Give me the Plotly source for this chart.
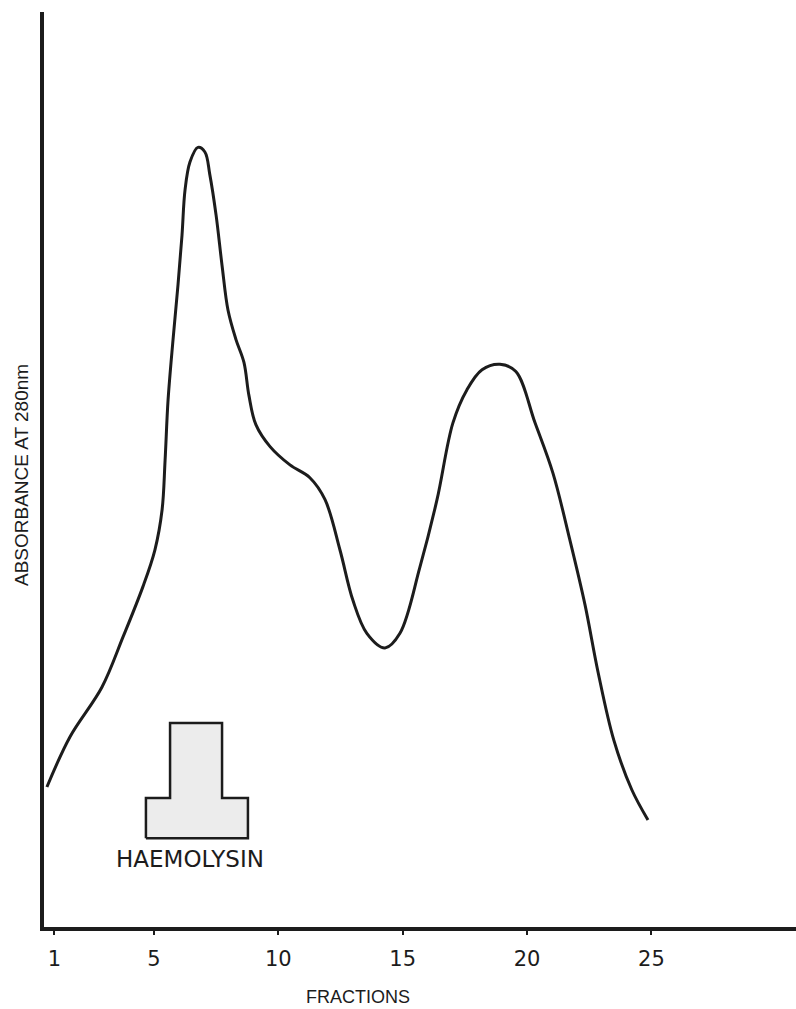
import plotly.graph_objects as go

# Elution profile (absorbance at 280 nm, relative units) vs fraction number
fraction = [0.70, 1.63, 2.91, 3.76, 4.56, 5.04, 5.33, 5.45, 5.57, 5.77,
            5.97, 6.13, 6.25, 6.45, 6.77, 7.05, 7.25, 7.50, 7.74, 7.98,
            8.30, 8.62, 8.82, 9.10, 9.67, 10.47, 11.27, 11.88, 12.48, 13.00,
            13.56, 14.29, 14.89, 15.69, 16.38, 17.02, 17.58, 18.19, 18.91, 19.55,
            20.32, 21.04, 21.72, 22.33, 22.85, 23.49, 24.21, 24.86]
absorbance = [0.153, 0.208, 0.262, 0.317, 0.372, 0.412, 0.456, 0.510, 0.576, 0.642,
              0.702, 0.756, 0.805, 0.836, 0.852, 0.847, 0.822, 0.778, 0.723, 0.674,
              0.642, 0.617, 0.581, 0.549, 0.525, 0.505, 0.491, 0.467, 0.412, 0.357,
              0.321, 0.305, 0.321, 0.393, 0.467, 0.551, 0.587, 0.609, 0.615, 0.607,
              0.551, 0.496, 0.423, 0.352, 0.279, 0.204, 0.150, 0.117]

# Haemolysin activity block (fraction edges and levels)
hemo_edges = [4.68, 5.65, 7.74, 8.78]
hemo_base = 0.097
hemo_low = 0.141
hemo_high = 0.223
hemo_label = "HAEMOLYSIN"
hemo_label_x = 6.45

tick_vals = [1, 5, 10, 15, 20, 25]
tick_text = ["1", "5", "10", "15", "20", "25"]
x_title = "FRACTIONS"
y_title = "ABSORBANCE AT 280nm"

ink = "#1c1c1c"

# polygon outline of the stepped haemolysin block
e0, e1, e2, e3 = hemo_edges
hx = [e0, e0, e1, e1, e2, e2, e3, e3, e0]
hy = [hemo_base, hemo_low, hemo_low, hemo_high, hemo_high, hemo_low, hemo_low, hemo_base, hemo_base]

fig = go.Figure()
fig.add_trace(go.Scatter(
    x=hx, y=hy, mode="lines", fill="toself",
    fillcolor="#ececec", line=dict(color=ink, width=2.5),
    hoverinfo="skip", showlegend=False))
fig.add_trace(go.Scatter(
    x=fraction, y=absorbance, mode="lines",
    line=dict(color=ink, width=3, shape="spline", smoothing=1.0),
    showlegend=False))

fig.add_annotation(
    x=hemo_label_x, y=hemo_base, yshift=-6, text=hemo_label,
    showarrow=False, xanchor="center", yanchor="top",
    font=dict(family="DejaVu Sans", size=23, color=ink))
fig.add_annotation(
    xref="paper", yref="paper", x=0.4176, y=0, yshift=-70,
    text=x_title, showarrow=False, xanchor="center", yanchor="middle",
    borderpad=0,
    font=dict(family="Liberation Sans, Arial", size=18, color=ink))
fig.add_annotation(
    xref="paper", yref="paper", x=0, xshift=-22, y=0.494,
    text=y_title, showarrow=False, textangle=-90,
    xanchor="center", yanchor="middle",
    font=dict(family="Liberation Sans, Arial", size=19, color=ink))

fig.update_xaxes(
    range=[0.583, 30.81], showgrid=False, zeroline=False,
    showline=True, linewidth=4, linecolor=ink,
    tickmode="array", tickvals=tick_vals, ticktext=tick_text,
    ticks="outside", ticklen=4, tickwidth=2, tickcolor=ink,
    ticklabelstandoff=6,
    tickfont=dict(family="DejaVu Sans", size=21, color=ink))
fig.update_yaxes(
    range=[0, 1], showgrid=False, zeroline=False,
    showline=True, linewidth=4, linecolor=ink,
    showticklabels=False, ticks="")

fig.update_layout(
    width=796, height=1009,
    margin=dict(l=44, r=0, t=12, b=82),
    paper_bgcolor="white", plot_bgcolor="white",
    showlegend=False)

fig.write_html("out.html",
               config={"displayModeBar": False},
               post_script="document.body.style.margin='0';document.body.style.overflow='hidden';")
